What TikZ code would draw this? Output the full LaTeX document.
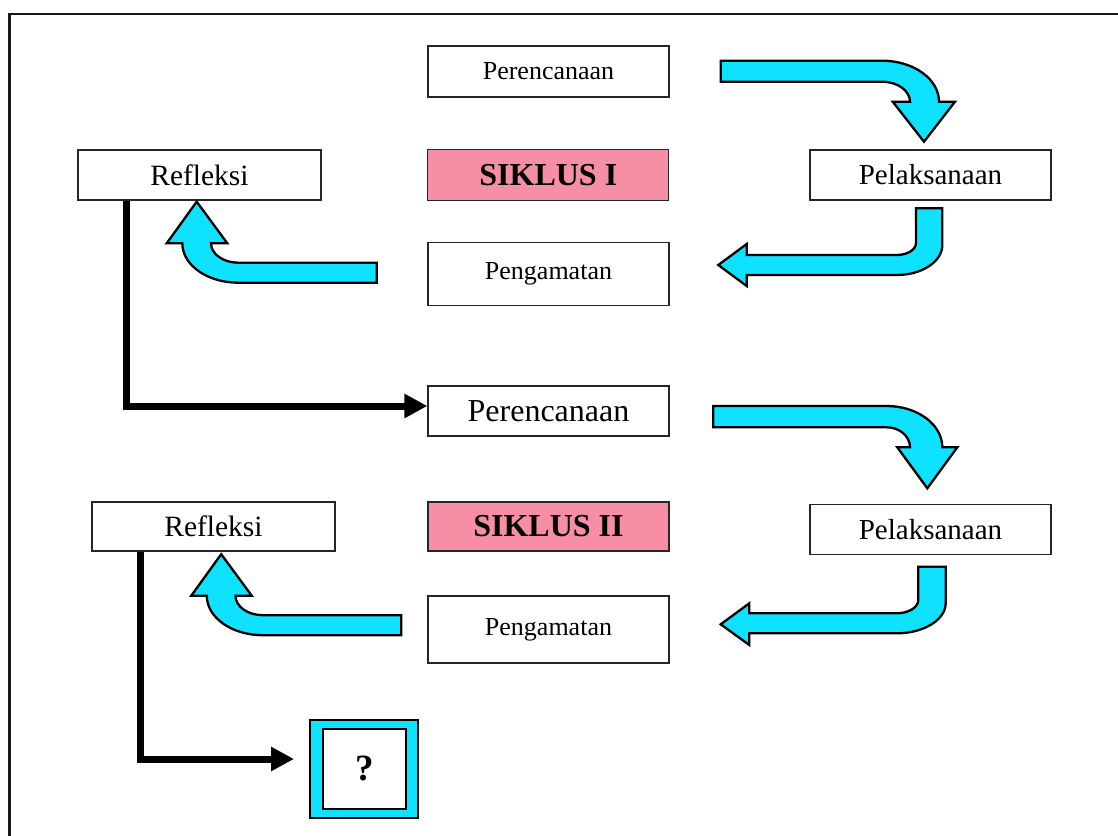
\documentclass[tikz,border=0pt]{standalone}
\usepackage{fontspec}
\setmainfont{Liberation Serif}
\usetikzlibrary{arrows.meta}
\definecolor{cyanarrow}{RGB}{14,226,255}
\definecolor{pinkbox}{RGB}{246,143,166}
\begin{document}
\begin{tikzpicture}[x=1pt,y=-1pt,
  box/.style={draw=black!85,line width=1.3pt,fill=white,inner sep=0pt,minimum width=241pt},
  smalltxt/.style={font=\fontsize{26}{30}\selectfont},
  midtxt/.style={font=\fontsize{29.5}{34}\selectfont},
  peltxt/.style={font=\fontsize{29}{34}\selectfont},
  bigtxt/.style={font=\fontsize{32}{38}\selectfont},
  cycletxt/.style={font=\fontsize{32}{36}\selectfont\bfseries},
  blockarrow/.style={fill=cyanarrow,draw=black,line width=2.3pt,line join=miter},
  flowline/.style={line width=7pt,-{Triangle[length=23pt,width=23pt]},line join=miter}]
\useasboundingbox (0,0) rectangle (1118,835);
\draw[line width=2.7pt,black!90] (9.5,14) rectangle (1140,860);

% Cycle I
\node[box,smalltxt,minimum height=51pt] (per1) at (548.5,71.5) {Perencanaan};
\node[box,cycletxt,fill=pinkbox,minimum height=51pt] (sik1) at (548.3,174.7) {SIKLUS I};
\node[box,midtxt,minimum width=243pt,minimum height=50pt] (refl1) at (199.5,175) {Refleksi};
\node[box,peltxt,minimum height=50pt] (pel1) at (930.5,175) {Pelaksanaan};
\node[box,smalltxt,minimum height=63pt] (peng1) at (548.5,274) {Pengamatan};

% Cycle II
\node[box,bigtxt,minimum height=50pt] (per2) at (548.5,411) {Perencanaan};
\node[box,midtxt,minimum width=243pt,minimum height=49pt] (refl2) at (213.5,526.5) {Refleksi};
\node[box,cycletxt,fill=pinkbox,minimum height=49pt] (sik2) at (548.5,526.5) {SIKLUS II};
\node[box,peltxt,minimum height=50pt] (pel2) at (930.5,529.3) {Pelaksanaan};
\node[box,smalltxt,minimum height=67pt] (peng2) at (548.5,629.5) {Pengamatan};

% Question box
\node[draw=black,line width=2pt,fill=cyanarrow,minimum width=108pt,minimum height=98pt,inner sep=0pt] (q) at (364,769) {};
\node[draw=black,line width=2pt,fill=white,minimum width=83pt,minimum height=80pt,inner sep=0pt,font=\fontsize{37}{40}\selectfont\bfseries] (qin) at (364.5,769) {?};

% Block arrows cycle I
\draw[blockarrow] (720.7,60.7) -- (882,60.7) .. controls (913.5,60.7) and (939,79.1) .. (939,101.7) -- (955,101.7) -- (924,141.7) -- (892.7,101.7) -- (910,101.7) .. controls (910,90.7) and (897.5,81.7) .. (882,81.7) -- (720.7,81.7) -- cycle;
\draw[blockarrow] (916,208.3) -- (942.3,208.3) -- (942.3,245) .. controls (942.3,261.6) and (921.9,275) .. (896.7,275) -- (746.7,275) -- (746.7,286) -- (718.3,265) -- (746.7,244) -- (746.7,255) -- (896.7,255) .. controls (907.4,255) and (916,249.6) .. (916,243) -- cycle;
\draw[blockarrow] (376.7,262.7) -- (238.3,262.7) .. controls (223.2,262.7) and (211,254) .. (211,243.3) -- (227.3,243.3) -- (196.7,201.7) -- (166.7,243.3) -- (182.3,243.3) .. controls (182.3,265.1) and (207.4,282.7) .. (238.3,282.7) -- (376.7,282.7) -- cycle;

% Block arrows cycle II
\draw[blockarrow] (713.3,406) -- (886.7,406) .. controls (917.4,406) and (942.3,424.5) .. (942.3,447.3) -- (957.3,447.3) -- (927.3,488.3) -- (897.3,447.3) -- (910,447.3) .. controls (910,436.3) and (899.6,427.3) .. (886.7,427.3) -- (713.3,427.3) -- cycle;
\draw[blockarrow] (918.3,566.7) -- (945.7,566.7) -- (945.7,603) .. controls (945.7,619.7) and (923.8,633.3) .. (896.7,633.3) -- (749.3,633.3) -- (749.3,645) -- (720.7,624.3) -- (749.3,603.3) -- (749.3,613.3) -- (896.7,613.3) .. controls (908.6,613.3) and (918.3,607.3) .. (918.3,600) -- cycle;
\begin{scope}[shift={(24.5,352.5)}]
\draw[blockarrow] (376.7,262.7) -- (238.3,262.7) .. controls (223.2,262.7) and (211,254) .. (211,243.3) -- (227.3,243.3) -- (196.7,201.7) -- (166.7,243.3) -- (182.3,243.3) .. controls (182.3,265.1) and (207.4,282.7) .. (238.3,282.7) -- (376.7,282.7) -- cycle;
\end{scope}

% Black connectors
\draw[flowline] ([xshift=-73.5pt]refl1.south) |- ([yshift=5pt]per2.west);
\draw[flowline,shorten >=15pt] ([xshift=-73.5pt]refl2.south) |- ([yshift=10pt]q.west);
\end{tikzpicture}
\end{document}
